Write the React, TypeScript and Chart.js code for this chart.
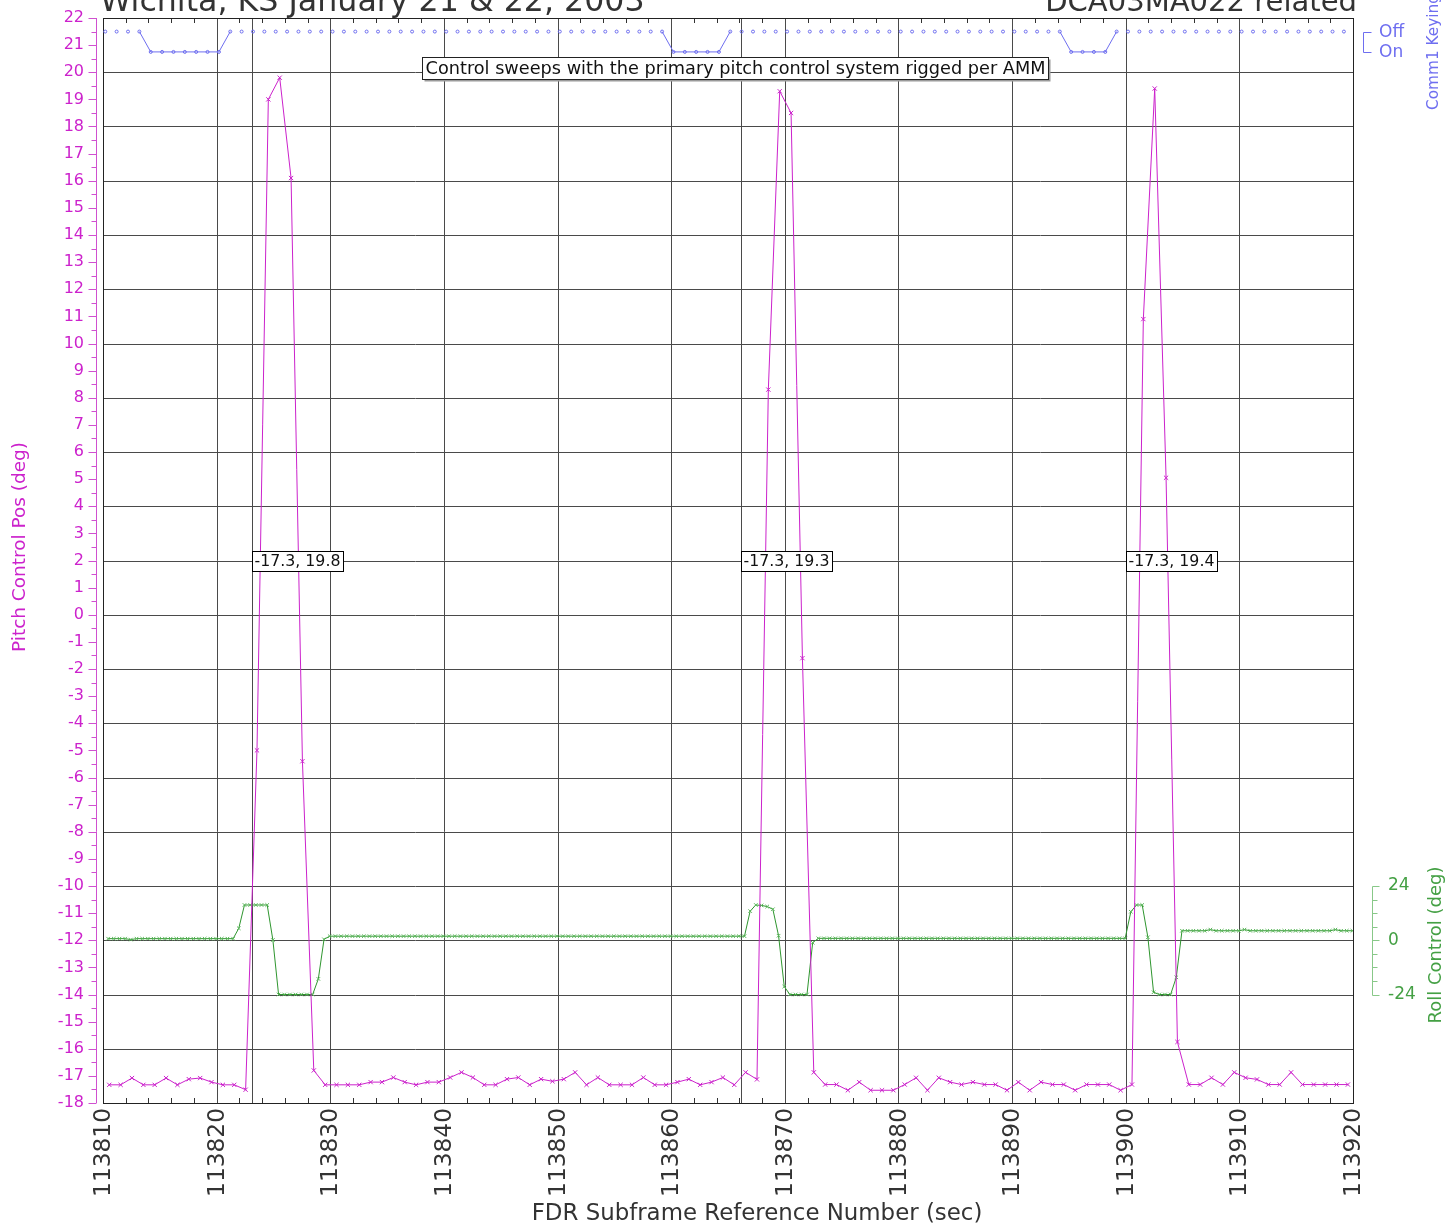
import { useEffect, useRef } from "react";
import { Chart, registerables } from "chart.js";

Chart.register(...registerables);

// ---------- text ----------
const TITLE_LEFT = "Wichita, KS January 21 & 22, 2003";
const TITLE_RIGHT = "DCA03MA022 related";
const NOTE_TEXT = "Control sweeps with the primary pitch control system rigged per AMM";
const X_TITLE = "FDR Subframe Reference Number (sec)";
const PITCH_TITLE = "Pitch Control Pos (deg)";
const ROLL_TITLE = "Roll Control (deg)";
const COMM_TITLE = "Comm1 Keying";
const COMM_STATES = ["On", "Off"]; // value 0 = On, value 1 = Off

// ---------- axes ----------
const X_MIN = 113810;
const X_MAX = 113920;
const Y_MIN = -18;
const Y_MAX = 22;
const xTickLabels = [113810, 113820, 113830, 113840, 113850, 113860, 113870, 113880, 113890, 113900, 113910, 113920];
const yTickLabels = [22, 21, 20, 19, 18, 17, 16, 15, 14, 13, 12, 11, 10, 9, 8, 7, 6, 5, 4, 3, 2, 1, 0, -1, -2, -3, -4, -5, -6, -7, -8, -9, -10, -11, -12, -13, -14, -15, -16, -17, -18];
const yGridValues = [20, 18, 16, 14, 12, 10, 8, 6, 4, 2, 0, -2, -4, -6, -8, -10, -12, -14, -16];
const rollTickLabels = [24, 0, -24];
const rollMinorTicks = [18, 12, 6, -6, -12, -18];
// roll axis placement on the pitch scale: roll 0 sits at pitch -12, 12 deg roll per pitch unit
const ROLL_ZERO_AT = -12;
const ROLL_PER_UNIT = 12;
// comm keying placement on the pitch scale
const COMM_ON_AT = 20.75;
const COMM_OFF_AT = 21.5;

// ---------- sweep annotations ----------
const sweepMarkers = [113823.1, 113866.1, 113900.0];
const sweepLabels = ["-17.3, 19.8", "-17.3, 19.3", "-17.3, 19.4"];
const SWEEP_LABEL_Y = 2;
const NOTE_X = 113865.6;
const NOTE_Y = 20.15;

// ---------- series ----------
const PITCH_T0 = 113810.55; // 1 Hz
const PITCH_STEP = 1;
const pitchValues = [
  -17.33, -17.33, -17.08, -17.33, -17.33, -17.08, -17.33, -17.12, -17.08, -17.23, -17.33, -17.33, -17.51,
  -5.0, 19.0, 19.8, 16.1, -5.4, -16.8,
  -17.33, -17.33, -17.33, -17.33, -17.23, -17.23, -17.06, -17.23, -17.33, -17.23,
  -17.23, -17.06, -16.87, -17.06, -17.33, -17.33, -17.12, -17.06, -17.33, -17.12,
  -17.2, -17.12, -16.87, -17.33, -17.06, -17.33, -17.33, -17.33, -17.06, -17.33,
  -17.33, -17.23, -17.12, -17.33, -17.23, -17.06, -17.33, -16.87, -17.13,
  8.3, 19.3, 18.5, -1.6, -16.87,
  -17.32, -17.32, -17.53, -17.23, -17.53, -17.53, -17.53, -17.32, -17.07, -17.53,
  -17.07, -17.23, -17.32, -17.23, -17.32, -17.32, -17.53, -17.23, -17.53, -17.23,
  -17.32, -17.32, -17.53, -17.32, -17.32, -17.32, -17.53, -17.32,
  10.9, 19.4, 5.05, -15.75,
  -17.32, -17.32, -17.07, -17.32, -16.87, -17.07, -17.13, -17.32, -17.32, -16.87,
  -17.32, -17.32, -17.32, -17.32, -17.32,
];

const ROLL_T0 = 113810.45; // 2 Hz
const ROLL_STEP = 0.5;
const rollValues = [
  0.7, 0.7, 0.7, 0.7, 0.3, 0.7, 0.7, 0.7, 0.7, 0.7, 0.7, 0.7, 0.7, 0.7, 0.7, 0.7, 0.7, 0.7, 0.7, 0.7, 0.7, 0.7, 0.7,
  5.3, 15.6, 15.6, 15.6, 15.6, 15.6, 0.1, -24, -24, -24, -24, -24, -24, -24, -17.1, 0.4,
  1.8, 1.8, 1.8, 1.8, 1.8, 1.8, 1.8, 1.8, 1.8, 1.8,
  1.8, 1.8, 1.8, 1.8, 1.8, 1.8, 1.8, 1.8, 1.8, 1.8,
  1.8, 1.8, 1.8, 1.8, 1.8, 1.8, 1.8, 1.8, 1.8, 1.8,
  1.8, 1.8, 1.8, 1.8, 1.8, 1.8, 1.8, 1.8, 1.8, 1.8,
  1.8, 1.8, 1.8, 1.8, 1.8, 1.8, 1.8, 1.8, 1.8, 1.8,
  1.8, 1.8, 1.8, 1.8, 1.8, 1.8, 1.8, 1.8, 1.8, 1.8,
  1.8, 1.8, 1.8, 1.8, 1.8, 1.8, 1.8, 1.8, 1.8, 1.8,
  1.8, 1.8, 1.8, 1.8,
  12.9, 15.6, 15.4, 14.9, 13.7, 2.0, -20.5, -24, -24, -24, -24, -1.1,
  0.85, 0.85, 0.85, 0.85, 0.85, 0.85, 0.85, 0.85, 0.85, 0.85,
  0.85, 0.85, 0.85, 0.85, 0.85, 0.85, 0.85, 0.85, 0.85, 0.85,
  0.85, 0.85, 0.85, 0.85, 0.85, 0.85, 0.85, 0.85, 0.85, 0.85,
  0.85, 0.85, 0.85, 0.85, 0.85, 0.85, 0.85, 0.85, 0.85, 0.85,
  0.85, 0.85, 0.85, 0.85, 0.85, 0.85, 0.85, 0.85, 0.85, 0.85,
  0.85, 0.85, 0.85, 0.85, 0.85,
  12.6, 15.6, 15.6, 1.3, -23, -24, -24, -24, -16.4, 4.2,
  4.2, 4.2, 4.2, 4.2, 4.7, 4.2, 4.2, 4.2, 4.2, 4.2,
  4.7, 4.2, 4.2, 4.2, 4.2, 4.2, 4.2, 4.2, 4.2, 4.2,
  4.2, 4.2, 4.2, 4.2, 4.2, 4.2, 4.7, 4.2, 4.2, 4.2,
];

const COMM_T0 = 113810.2; // 1 Hz
const COMM_STEP = 1;
const commValues = [
  1, 1, 1, 1,
  0, 0, 0, 0, 0, 0, 0,
  1, 1, 1, 1, 1, 1, 1, 1, 1, 1, 1, 1, 1, 1, 1, 1, 1, 1, 1, 1,
  1, 1, 1, 1, 1, 1, 1, 1, 1, 1, 1, 1, 1, 1, 1, 1, 1, 1, 1,
  0, 0, 0, 0, 0,
  1, 1, 1, 1, 1, 1, 1, 1, 1, 1, 1, 1, 1, 1, 1,
  1, 1, 1, 1, 1, 1, 1, 1, 1, 1, 1, 1, 1, 1, 1,
  0, 0, 0, 0,
  1, 1, 1, 1, 1, 1, 1, 1, 1, 1, 1, 1, 1, 1, 1, 1, 1, 1, 1, 1, 1,
];

// ---------- styles ----------
const FONT = '"DejaVu Sans", sans-serif';
const PITCH_COLOR = "#cc22cc";
const PITCH_AXIS_COLOR = "#d050d0";
const ROLL_COLOR = "#2f962f";
const ROLL_AXIS_COLOR = "#88c888";
const ROLL_TEXT_COLOR = "#44a044";
const COMM_COLOR = "#6e6ef0";
const GRID_COLOR = "#4a4a4a";
const TEXT_COLOR = "#333333";

function fitSize(ctx: CanvasRenderingContext2D, text: string, width: number) {
  ctx.font = `20px ${FONT}`;
  const w = ctx.measureText(text).width;
  return (20 * width) / w;
}

const framePlugin = {
  id: "frame",
  beforeDraw(chart: any) {
    const { ctx } = chart;
    ctx.save();
    ctx.fillStyle = "#ffffff";
    ctx.fillRect(0, 0, chart.width, chart.height);
    ctx.restore();
  },
  beforeDatasetsDraw(chart: any) {
    const { ctx, chartArea: a, scales } = chart;
    const sx = scales.x;
    const sy = scales.y;
    ctx.save();
    ctx.lineWidth = 1;
    ctx.strokeStyle = GRID_COLOR;
    ctx.beginPath();
    yGridValues.forEach((v) => {
      const py = Math.round(sy.getPixelForValue(v)) + 0.5;
      ctx.moveTo(a.left, py);
      ctx.lineTo(a.right, py);
    });
    xTickLabels.slice(1, -1).forEach((t) => {
      const px = Math.round(sx.getPixelForValue(t)) + 0.5;
      ctx.moveTo(px, a.top);
      ctx.lineTo(px, a.bottom);
    });
    sweepMarkers.forEach((t) => {
      const px = Math.round(sx.getPixelForValue(t)) + 0.5;
      ctx.moveTo(px, a.top);
      ctx.lineTo(px, a.bottom);
    });
    ctx.stroke();
    // minor ticks along top and bottom, every 2 s
    ctx.strokeStyle = "#333";
    ctx.beginPath();
    for (let t = X_MIN + 2; t < X_MAX; t += 2) {
      if ((t - X_MIN) % 10 === 0) continue;
      const px = Math.round(sx.getPixelForValue(t)) + 0.5;
      ctx.moveTo(px, a.top);
      ctx.lineTo(px, a.top + 5);
      ctx.moveTo(px, a.bottom);
      ctx.lineTo(px, a.bottom - 5);
    }
    ctx.stroke();
    // frame
    ctx.strokeStyle = "#222";
    ctx.strokeRect(Math.round(a.left) + 0.5, Math.round(a.top) + 0.5, Math.round(a.right - a.left), Math.round(a.bottom - a.top));
    ctx.restore();
  },
  afterDatasetsDraw(chart: any) {
    const { ctx, chartArea: a, scales } = chart;
    const sx = scales.x;
    const sy = scales.y;
    const sr = scales.yRoll;
    const sc = scales.yComm;
    ctx.save();

    // sweep labels
    const sweepSize = fitSize(ctx, sweepLabels[0], 86);
    ctx.font = `${sweepSize}px ${FONT}`;
    sweepLabels.forEach((text, i) => {
      const px = Math.round(sx.getPixelForValue(sweepMarkers[i])) + 0.5;
      const py = Math.round(sy.getPixelForValue(SWEEP_LABEL_Y));
      const w = Math.round(ctx.measureText(text).width + 5);
      const h = 20;
      ctx.fillStyle = "#fff";
      ctx.fillRect(px, py - h / 2, w, h);
      ctx.strokeStyle = "#000";
      ctx.lineWidth = 1;
      ctx.strokeRect(px, py - h / 2 + 0.5, w, h);
      ctx.fillStyle = "#111";
      ctx.textAlign = "left";
      ctx.textBaseline = "middle";
      ctx.fillText(text, px + 2, py + 1);
    });

    // note box
    const noteSize = fitSize(ctx, NOTE_TEXT, 620);
    ctx.font = `${noteSize}px ${FONT}`;
    const ncx = sx.getPixelForValue(NOTE_X);
    const ncy = Math.round(sy.getPixelForValue(NOTE_Y));
    const nw = Math.round(ctx.measureText(NOTE_TEXT).width + 6);
    const nh = 22;
    const nl = Math.round(ncx - nw / 2) + 0.5;
    const nt = ncy - nh / 2 + 0.5;
    ctx.fillStyle = "#9a9a9a";
    ctx.fillRect(nl + 2, nt + 2, nw, nh);
    ctx.fillStyle = "#fff";
    ctx.fillRect(nl, nt, nw, nh);
    ctx.strokeStyle = "#222";
    ctx.strokeRect(nl, nt, nw, nh);
    ctx.fillStyle = "#111";
    ctx.textAlign = "center";
    ctx.textBaseline = "middle";
    ctx.fillText(NOTE_TEXT, nl + nw / 2, ncy + 1);

    // titles (partly cut at top)
    ctx.fillStyle = TEXT_COLOR;
    ctx.textBaseline = "alphabetic";
    ctx.font = `${fitSize(ctx, TITLE_LEFT, 545)}px ${FONT}`;
    ctx.textAlign = "left";
    ctx.fillText(TITLE_LEFT, 100, 11);
    ctx.font = `${fitSize(ctx, TITLE_RIGHT, 312)}px ${FONT}`;
    ctx.textAlign = "right";
    ctx.fillText(TITLE_RIGHT, 1357, 11);

    // left pitch axis
    const axX = 96.5;
    ctx.strokeStyle = PITCH_AXIS_COLOR;
    ctx.lineWidth = 1;
    ctx.beginPath();
    ctx.moveTo(axX, a.top);
    ctx.lineTo(axX, a.bottom);
    for (let v = Y_MIN; v <= Y_MAX; v += 0.5) {
      const py = Math.round(sy.getPixelForValue(v)) + 0.5;
      const major = Number.isInteger(v);
      ctx.moveTo(axX, py);
      ctx.lineTo(axX - (major ? 8 : 5), py);
    }
    ctx.stroke();
    ctx.fillStyle = PITCH_COLOR;
    ctx.font = `16px ${FONT}`;
    ctx.textAlign = "right";
    ctx.textBaseline = "middle";
    yTickLabels.forEach((v) => {
      ctx.fillText(String(v), 84, sy.getPixelForValue(v));
    });
    ctx.save();
    ctx.font = `${fitSize(ctx, PITCH_TITLE, 210)}px ${FONT}`;
    ctx.translate(20, 547);
    ctx.rotate(-Math.PI / 2);
    ctx.textAlign = "center";
    ctx.textBaseline = "middle";
    ctx.fillText(PITCH_TITLE, 0, 0);
    ctx.restore();

    // bottom x labels
    ctx.fillStyle = TEXT_COLOR;
    const xs = fitSize(ctx, String(xTickLabels[0]), 89);
    ctx.font = `${xs}px ${FONT}`;
    xTickLabels.forEach((t) => {
      ctx.save();
      ctx.translate(sx.getPixelForValue(t) + 1, a.bottom + 5);
      ctx.rotate(-Math.PI / 2);
      ctx.textAlign = "right";
      ctx.textBaseline = "middle";
      ctx.fillText(String(t), 0, 0);
      ctx.restore();
    });
    ctx.font = `${fitSize(ctx, X_TITLE, 451)}px ${FONT}`;
    ctx.textAlign = "center";
    ctx.textBaseline = "alphabetic";
    ctx.fillText(X_TITLE, 757, 1220);

    // roll axis (right)
    const rx = 1372.5;
    ctx.strokeStyle = ROLL_AXIS_COLOR;
    ctx.beginPath();
    ctx.moveTo(rx, Math.round(sr.getPixelForValue(rollTickLabels[0])) + 0.5);
    ctx.lineTo(rx, Math.round(sr.getPixelForValue(rollTickLabels[rollTickLabels.length - 1])) + 0.5);
    rollTickLabels.forEach((v) => {
      const py = Math.round(sr.getPixelForValue(v)) + 0.5;
      ctx.moveTo(rx, py);
      ctx.lineTo(rx + 7, py);
    });
    rollMinorTicks.forEach((v) => {
      const py = Math.round(sr.getPixelForValue(v)) + 0.5;
      ctx.moveTo(rx, py);
      ctx.lineTo(rx + 5, py);
    });
    ctx.stroke();
    ctx.fillStyle = ROLL_TEXT_COLOR;
    ctx.font = `17px ${FONT}`;
    ctx.textAlign = "left";
    ctx.textBaseline = "middle";
    rollTickLabels.forEach((v) => {
      ctx.fillText(String(v), 1388, sr.getPixelForValue(v));
    });
    const sideSize = fitSize(ctx, ROLL_TITLE, 157);
    ctx.save();
    ctx.font = `${sideSize}px ${FONT}`;
    ctx.translate(1436, 945);
    ctx.rotate(-Math.PI / 2);
    ctx.textAlign = "center";
    ctx.textBaseline = "middle";
    ctx.fillText(ROLL_TITLE, 0, 0);
    ctx.restore();

    // comm keying axis
    const cx = 1363.5;
    const yOn = Math.round(sc.getPixelForValue(0)) + 0.5;
    const yOff = Math.round(sc.getPixelForValue(1)) + 0.5;
    ctx.strokeStyle = COMM_COLOR;
    ctx.beginPath();
    ctx.moveTo(cx + 8, yOff);
    ctx.lineTo(cx, yOff);
    ctx.lineTo(cx, yOn);
    ctx.lineTo(cx + 8, yOn);
    ctx.stroke();
    ctx.fillStyle = COMM_COLOR;
    ctx.font = `17px ${FONT}`;
    ctx.textAlign = "left";
    ctx.textBaseline = "middle";
    ctx.fillText(COMM_STATES[1], 1379, yOff);
    ctx.fillText(COMM_STATES[0], 1379, yOn);
    ctx.save();
    ctx.font = `${fitSize(ctx, COMM_TITLE, 116)}px ${FONT}`;
    ctx.translate(1434, 110);
    ctx.rotate(-Math.PI / 2);
    ctx.textAlign = "left";
    ctx.textBaseline = "middle";
    ctx.fillText(COMM_TITLE, 0, 0);
    ctx.restore();

    ctx.restore();
  },
};

export default function App() {
  const ref = useRef<HTMLCanvasElement>(null);
  useEffect(() => {
    const canvas = ref.current;
    if (!canvas) return;
    const pitchData = pitchValues.map((v, i) => ({ x: PITCH_T0 + i * PITCH_STEP, y: v }));
    const rollData = rollValues.map((v, i) => ({ x: ROLL_T0 + i * ROLL_STEP, y: v }));
    const commData = commValues.map((v, i) => ({ x: COMM_T0 + i * COMM_STEP, y: v }));
    const commSpan = COMM_OFF_AT - COMM_ON_AT;
    const chart = new Chart(canvas, {
      type: "line",
      data: {
        datasets: [
          {
            label: "Pitch Control Pos",
            data: pitchData,
            yAxisID: "y",
            borderColor: PITCH_COLOR,
            borderWidth: 1,
            pointStyle: "crossRot",
            pointRadius: 3,
            pointBorderWidth: 1,
            pointBorderColor: PITCH_COLOR,
            pointBackgroundColor: PITCH_COLOR,
            tension: 0,
            fill: false,
          },
          {
            label: "Roll Control",
            data: rollData,
            yAxisID: "yRoll",
            borderColor: ROLL_COLOR,
            borderWidth: 1,
            pointStyle: "crossRot",
            pointRadius: 2.5,
            pointBorderWidth: 1,
            pointBorderColor: "#5cb85c",
            pointBackgroundColor: "#5cb85c",
            tension: 0,
            fill: false,
          },
          {
            label: "Comm1 Keying",
            data: commData,
            yAxisID: "yComm",
            borderColor: COMM_COLOR,
            borderWidth: 1,
            pointStyle: "circle",
            pointRadius: 1.5,
            pointBorderWidth: 1,
            pointBorderColor: COMM_COLOR,
            pointBackgroundColor: "rgba(0,0,0,0)",
            tension: 0,
            fill: false,
            segment: {
              borderColor: (c: any) => (c.p0.parsed.y === 1 && c.p1.parsed.y === 1 ? "rgba(0,0,0,0)" : COMM_COLOR),
            },
          } as any,
        ],
      },
      options: {
        responsive: false,
        animation: false,
        devicePixelRatio: 1,
        layout: { padding: { left: 103, top: 18, right: 94, bottom: 125 } },
        plugins: { legend: { display: false }, tooltip: { enabled: false } },
        events: [],
        scales: {
          x: { type: "linear", min: X_MIN, max: X_MAX, display: false },
          y: { type: "linear", min: Y_MIN, max: Y_MAX, display: false },
          yRoll: {
            type: "linear",
            min: (Y_MIN - ROLL_ZERO_AT) * ROLL_PER_UNIT,
            max: (Y_MAX - ROLL_ZERO_AT) * ROLL_PER_UNIT,
            display: false,
          },
          yComm: {
            type: "linear",
            min: (Y_MIN - COMM_ON_AT) / commSpan,
            max: (Y_MAX - COMM_ON_AT) / commSpan,
            display: false,
          },
        },
      },
      plugins: [framePlugin],
    } as any);
    return () => chart.destroy();
  }, []);
  return (
    <div style={{ position: "fixed", left: 0, top: 0, width: 1447, height: 1228, background: "#fff" }}>
      <canvas ref={ref} width={1447} height={1228} style={{ display: "block", width: 1447, height: 1228 }} />
    </div>
  );
}
